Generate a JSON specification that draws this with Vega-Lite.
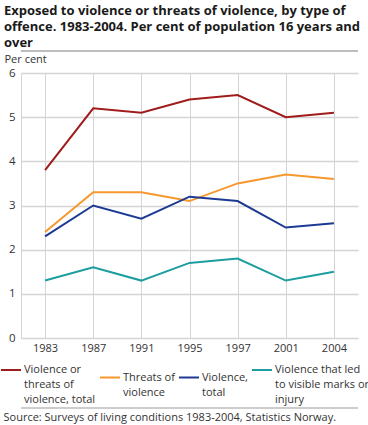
{
  "$schema": "https://vega.github.io/schema/vega-lite/v6.json",
  "width": 337,
  "height": 265,
  "autosize": {"type": "none"},
  "padding": {"left": 21, "top": 73, "right": 10, "bottom": 87},
  "background": "white",
  "config": {
    "font": "Open Sans",
    "view": {"stroke": null}
  },
  "title": {
    "text": ["Exposed to violence or threats of violence, by type of", "offence. 1983-2004. Per cent of population 16 years and", "over"],
    "anchor": "start",
    "frame": "group",
    "dx": -17,
    "offset": 0,
    "fontSize": 13,
    "fontWeight": "bold",
    "lineHeight": 16,
    "color": "#1a1a1a",
    "font": "Open Sans"
  },
  "layer": [
    {
      "data": {
        "values": [
          {"year": "1983", "series": "Violence or threats of violence, total", "value": 3.8},
          {"year": "1987", "series": "Violence or threats of violence, total", "value": 5.2},
          {"year": "1991", "series": "Violence or threats of violence, total", "value": 5.1},
          {"year": "1995", "series": "Violence or threats of violence, total", "value": 5.4},
          {"year": "1997", "series": "Violence or threats of violence, total", "value": 5.5},
          {"year": "2001", "series": "Violence or threats of violence, total", "value": 5.0},
          {"year": "2004", "series": "Violence or threats of violence, total", "value": 5.1},
          {"year": "1983", "series": "Threats of violence", "value": 2.4},
          {"year": "1987", "series": "Threats of violence", "value": 3.3},
          {"year": "1991", "series": "Threats of violence", "value": 3.3},
          {"year": "1995", "series": "Threats of violence", "value": 3.1},
          {"year": "1997", "series": "Threats of violence", "value": 3.5},
          {"year": "2001", "series": "Threats of violence", "value": 3.7},
          {"year": "2004", "series": "Threats of violence", "value": 3.6},
          {"year": "1983", "series": "Violence, total", "value": 2.3},
          {"year": "1987", "series": "Violence, total", "value": 3.0},
          {"year": "1991", "series": "Violence, total", "value": 2.7},
          {"year": "1995", "series": "Violence, total", "value": 3.2},
          {"year": "1997", "series": "Violence, total", "value": 3.1},
          {"year": "2001", "series": "Violence, total", "value": 2.5},
          {"year": "2004", "series": "Violence, total", "value": 2.6},
          {"year": "1983", "series": "Violence that led to visible marks or injury", "value": 1.3},
          {"year": "1987", "series": "Violence that led to visible marks or injury", "value": 1.6},
          {"year": "1991", "series": "Violence that led to visible marks or injury", "value": 1.3},
          {"year": "1995", "series": "Violence that led to visible marks or injury", "value": 1.7},
          {"year": "1997", "series": "Violence that led to visible marks or injury", "value": 1.8},
          {"year": "2001", "series": "Violence that led to visible marks or injury", "value": 1.3},
          {"year": "2004", "series": "Violence that led to visible marks or injury", "value": 1.5}
        ]
      },
      "mark": {"type": "line", "strokeWidth": 2},
      "encoding": {
        "x": {
          "field": "year", "type": "ordinal",
          "scale": {"type": "point", "padding": 0.5},
          "axis": {
            "orient": "bottom",
            "title": "Source: Surveys of living conditions 1983-2004, Statistics Norway.",
            "titleFontSize": 11,
            "titleFontWeight": "normal",
            "titleColor": "#333333",
            "titleAlign": "left",
            "titleBaseline": "middle",
            "titleX": -18,
            "titleY": 79,
            "labelAngle": 0,
            "labelFontSize": 11,
            "labelColor": "#333333",
            "labelPadding": 4,
            "ticks": false,
            "domain": false,
            "grid": true,
            "gridColor": "#d4d4d4",
            "gridWidth": 1
          }
        },
        "y": {
          "field": "value", "type": "quantitative",
          "scale": {"domain": [0, 6]},
          "axis": {
            "values": [0, 1, 2, 3, 4, 5, 6],
            "title": "Per cent",
            "titleAngle": 0,
            "titleAlign": "left",
            "titleBaseline": "top",
            "titleX": -17,
            "titleY": -20,
            "titleFontSize": 11,
            "titleFontWeight": "normal",
            "titleColor": "#333333",
            "labelFontSize": 11.5,
            "labelColor": "#333333",
            "labelPadding": 6,
            "ticks": false,
            "domain": true,
            "domainColor": "#d4d4d4",
            "grid": true,
            "gridColor": "#d4d4d4",
            "gridWidth": 1.3
          }
        },
        "color": {
          "field": "series", "type": "nominal",
          "scale": {
            "domain": ["Violence or threats of violence, total", "Threats of violence", "Violence, total", "Violence that led to visible marks or injury"],
            "range": ["#a01c1c", "#f7982e", "#1c3a94", "#1d9e9e"]
          },
          "legend": {
            "orient": "none",
            "legendX": -21,
            "legendY": 286,
            "direction": "horizontal",
            "columns": 4,
            "columnPadding": 0,
            "title": null,
            "symbolType": "stroke",
            "symbolSize": 400,
            "symbolStrokeWidth": 2,
            "labelOffset": 2,
            "labelFontSize": 11,
            "labelColor": "#333333",
            "labelBaseline": "middle",
            "labelLimit": 0,
            "labelExpr": "datum.label == 'Violence or threats of violence, total' ? ['Violence or', 'threats of', 'violence, total'] : datum.label == 'Threats of violence' ? ['Threats of', 'violence'] : datum.label == 'Violence, total' ? ['Violence,', 'total'] : ['Violence that led', 'to visible marks or', 'injury']",
            "encode": {"labels": {"update": {"lineHeight": {"value": 15}}}}
          }
        }
      }
    },
    {
      "data": {"values": [{"kind": "separator"}]},
      "mark": {"type": "rule", "stroke": "#bdbdbd", "strokeWidth": 2, "opacity": 1, "clip": false},
      "encoding": {"y": {"datum": 6.5, "type": "quantitative"}}
    },
    {
      "data": {"values": [{"kind": "separator"}]},
      "mark": {"type": "rule", "stroke": "#bdbdbd", "strokeWidth": 1.5, "opacity": 1, "clip": false},
      "encoding": {"y": {"datum": -1.585, "type": "quantitative"}}
    }
  ]
}
